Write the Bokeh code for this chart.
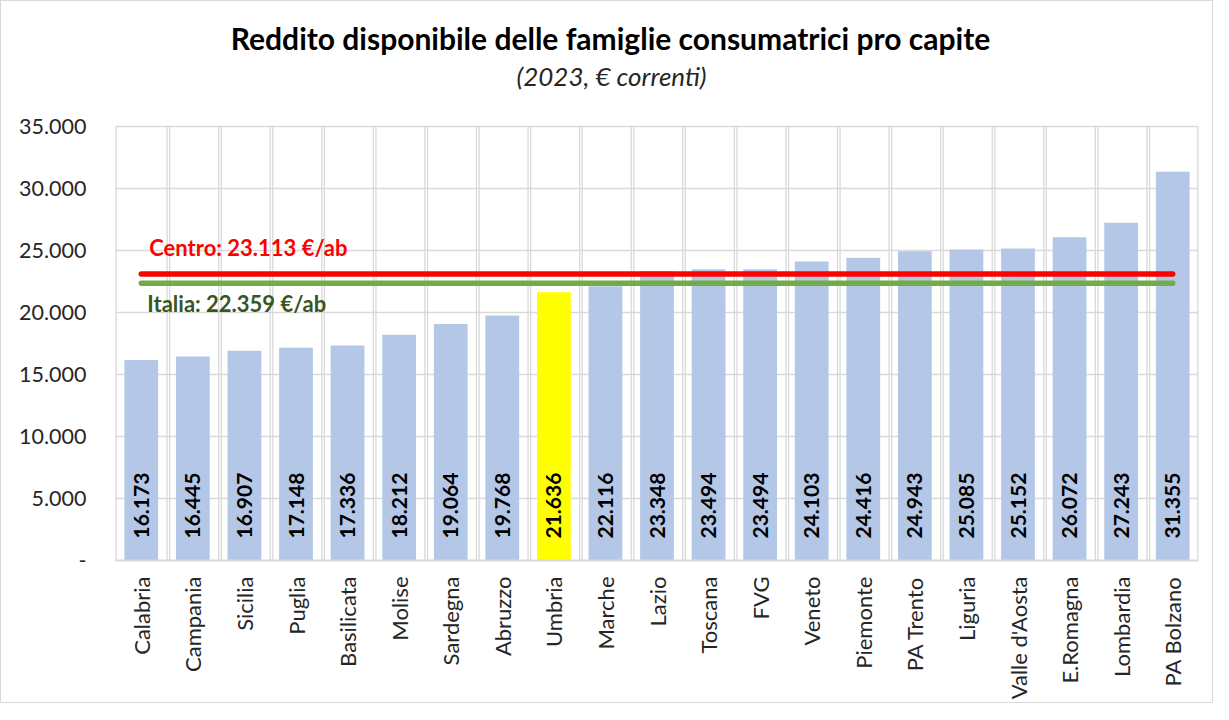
import math
from bokeh.plotting import figure
from bokeh.models import FixedTicker, Label, Range1d
from bokeh.core.properties import value
from bokeh.embed import file_html
from bokeh.resources import INLINE

# ---------------- data ----------------
regioni = ["Calabria", "Campania", "Sicilia", "Puglia", "Basilicata", "Molise",
           "Sardegna", "Abruzzo", "Umbria", "Marche", "Lazio", "Toscana", "FVG",
           "Veneto", "Piemonte", "PA Trento", "Liguria", "Valle d'Aosta",
           "E.Romagna", "Lombardia", "PA Bolzano"]
reddito = [16173, 16445, 16907, 17148, 17336, 18212, 19064, 19768, 21636, 22116,
           23348, 23494, 23494, 24103, 24416, 24943, 25085, 25152, 26072, 27243, 31355]
centro = 23113
italia = 22359
centro_label = "Centro:  23.113 €/ab"
italia_label = "Italia:  22.359 €/ab"
evidenziata = "Umbria"
y_ticks = [0, 5000, 10000, 15000, 20000, 25000, 30000, 35000]
y_labels = ["-", "5.000", "10.000", "15.000", "20.000", "25.000", "30.000", "35.000"]
title_text = "Reddito disponibile delle famiglie consumatrici pro capite"
subtitle_text = "(2023, € correnti)"

FONT = "Lato"
GRID = "#D9D9D9"
n = len(regioni)
centers = [i + 0.5 for i in range(n)]
colors = ["#FFFF00" if r == evidenziata else "#B4C7E7" for r in regioni]
labels = [f"{v:,}".replace(",", ".") for v in reddito]

W, H = 1213, 703
BOTTOM = 144
FRAME_H = H - BOTTOM          # frame extends to the top so that titles fit inside it
PLOT_H = 434                  # pixel height of the 0..35000 plot area
y_max = y_ticks[-1]
y_top = y_max * FRAME_H / PLOT_H

p = figure(width=W, height=H, output_backend="svg", toolbar_location=None,
           x_range=Range1d(0, n), y_range=Range1d(0, y_top),
           min_border_left=114, min_border_right=16, min_border_bottom=BOTTOM,
           min_border_top=0)
p.styles = {"border": "1px solid #D9D9D9"}
p.outline_line_color = None
p.background_fill_color = "white"
p.border_fill_color = "white"
p.xgrid.visible = False

# titles (screen units, relative to the frame)
p.add_layout(Label(x=495, y=523, x_units="screen", y_units="screen",
                   text=title_text, text_align="center", text_baseline="middle",
                   text_font=FONT, text_font_style="bold", text_font_size="30px",
                   text_color="black"))
p.add_layout(Label(x=496, y=485, x_units="screen", y_units="screen",
                   text=subtitle_text, text_align="center", text_baseline="middle",
                   text_font=FONT, text_font_style="italic", text_font_size="26px",
                   text_color="#262626"))

# grid of the plot area
p.ygrid.ticker = FixedTicker(ticks=y_ticks[1:])
p.ygrid.grid_line_color = GRID
p.ygrid.grid_line_width = 1.3
inner = list(range(1, n))
p.segment(x0=inner, x1=inner, y0=[0] * len(inner), y1=[y_max] * len(inner),
          line_color=GRID, line_width=1.3)
inner2 = [k + 0.05 for k in inner]
p.segment(x0=inner2, x1=inner2, y0=[0] * len(inner), y1=[y_max] * len(inner),
          line_color=GRID, line_width=1.3)
p.segment(x0=[0, n], x1=[0, n], y0=[0, 0], y1=[y_max, y_max],
          line_color=GRID, line_width=2.6)

# bars
p.vbar(x=centers, top=reddito, width=0.655, color=colors, line_color=None)

# bar labels
p.text(x=centers, y=[0] * n, text=labels, angle=math.pi / 2, y_offset=-22,
       text_align="left", text_baseline="middle", text_font=value(FONT),
       text_font_style="bold", text_font_size="21px", text_color="black")

# reference lines
p.segment(x0=[centers[0]], x1=[centers[-1]], y0=[centro], y1=[centro],
          line_color="#FF0000", line_width=5.5, line_cap="round")
p.segment(x0=[centers[0]], x1=[centers[-1]], y0=[italia], y1=[italia],
          line_color="#70AD47", line_width=5.5, line_cap="round")
p.text(x=[centers[0]], y=[centro], text=[centro_label], x_offset=8, y_offset=-26,
       text_baseline="middle", text_font=value(FONT), text_font_style="bold",
       text_font_size="22px", text_color="#FF0000")
p.text(x=[centers[0]], y=[italia], text=[italia_label], x_offset=6, y_offset=20,
       text_baseline="middle", text_font=value(FONT), text_font_style="bold",
       text_font_size="22px", text_color="#375623")

# axes
p.xaxis.ticker = FixedTicker(ticks=centers)
p.xaxis.major_label_overrides = {c: r for c, r in zip(centers, regioni)}
p.xaxis.major_label_orientation = math.pi / 2
p.xaxis.major_tick_line_color = None
p.xaxis.minor_tick_line_color = None
p.xaxis.major_tick_out = 0
p.xaxis.major_label_standoff = 16
p.xaxis.axis_line_color = GRID
p.xaxis.axis_line_width = 2
p.xaxis.major_label_text_font = FONT
p.xaxis.major_label_text_font_size = "22px"
p.xaxis.major_label_text_color = "#262626"

p.yaxis.ticker = FixedTicker(ticks=y_ticks)
p.yaxis.major_label_overrides = {t: l for t, l in zip(y_ticks, y_labels)}
p.yaxis.major_tick_line_color = None
p.yaxis.minor_tick_line_color = None
p.yaxis.major_tick_out = 0
p.yaxis.axis_line_color = None
p.yaxis.major_label_standoff = 29
p.yaxis.major_label_text_font = FONT
p.yaxis.major_label_text_font_size = "21.5px"
p.yaxis.major_label_text_color = "#262626"

open("out.html", "w").write(file_html(p, INLINE))
